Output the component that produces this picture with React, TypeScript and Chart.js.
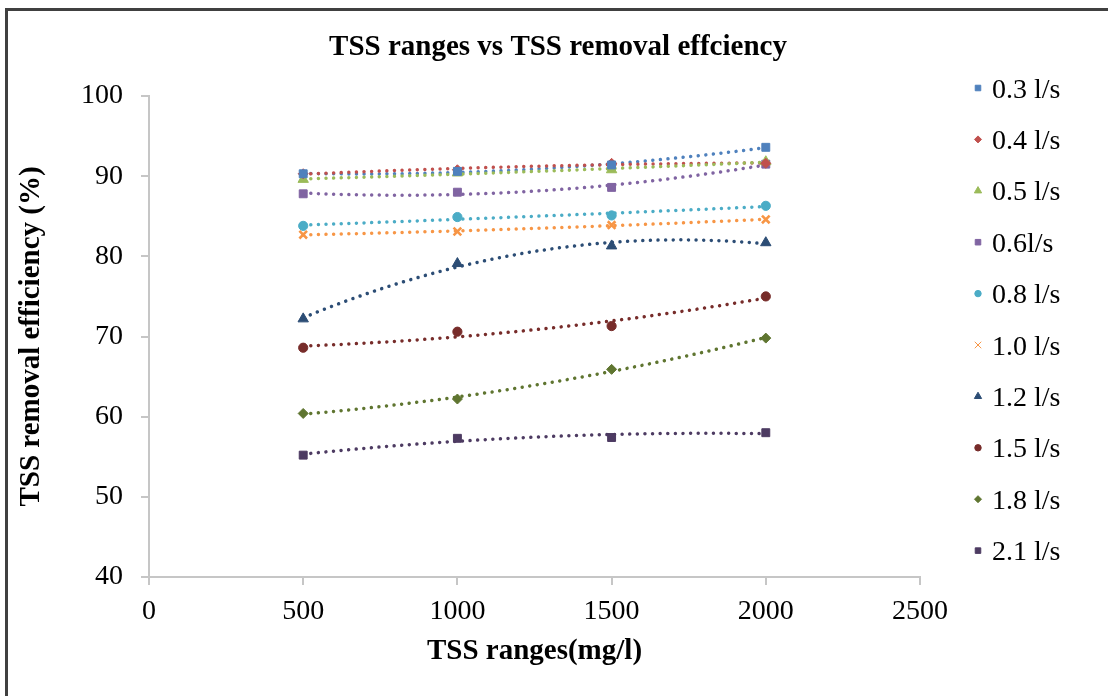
import React, { useEffect, useRef } from 'react';
import { Chart, registerables } from 'chart.js';
import { drawPoint } from 'chart.js/helpers';

Chart.register(...registerables);

// ---------- data ----------
const tssRanges = [500, 1000, 1500, 2000];
const xTickValues = [0, 500, 1000, 1500, 2000, 2500];
const yTickValues = [40, 50, 60, 70, 80, 90, 100];

const seriesLabels = ['0.3 l/s', '0.4 l/s', '0.5 l/s', '0.6l/s', '0.8 l/s', '1.0 l/s', '1.2 l/s', '1.5 l/s', '1.8 l/s', '2.1 l/s'];

const eff03 = [90.3, 90.6, 91.4, 93.6];
const eff04 = [90.3, 90.8, 91.6, 91.6];
const eff05 = [89.6, 90.4, 90.8, 91.8];
const eff06 = [87.8, 88.0, 88.6, 91.5];
const eff08 = [83.8, 84.9, 85.1, 86.3];
const eff10 = [82.7, 83.1, 83.9, 84.6];
const eff12 = [72.2, 79.1, 81.3, 81.7];
const eff15 = [68.6, 70.6, 71.3, 75.0];
const eff18 = [60.4, 62.2, 65.9, 69.8];
const eff21 = [55.2, 57.3, 57.4, 58.0];

const seriesValues = [eff03, eff04, eff05, eff06, eff08, eff10, eff12, eff15, eff18, eff21];

const seriesColors = ['#4F81BD', '#C0504D', '#9BBB59', '#8064A2', '#4BACC6', '#F79646', '#2C4D75', '#772C2A', '#5F7530', '#4D3B62'];
const seriesMarkers = ['rect', 'rectRot', 'triangle', 'rect', 'circle', 'crossRot', 'triangle', 'circle', 'rectRot', 'rect'];

const titleText = 'TSS ranges vs TSS removal effciency';
const xTitle = 'TSS ranges(mg/l)';
const yTitle = 'TSS removal efficiency (%)';

const FONT = "'Liberation Serif', 'Times New Roman', serif";
const AXIS_COLOR = '#c6c6c6';

function markerRadius(style: string) {
  switch (style) {
    case 'rect': return 5.6;
    case 'rectRot': return 5;
    case 'triangle': return 6;
    case 'circle': return 4.6;
    case 'crossRot': return 5.4;
    default: return 5;
  }
}

// least-squares quadratic (polynomial order 2) trendline
function quadFit(xs: number[], ys: number[]) {
  const s = [0, 0, 0, 0, 0];
  const t = [0, 0, 0];
  for (let i = 0; i < xs.length; i++) {
    const u = xs[i] / 1000;
    for (let k = 0; k < 5; k++) s[k] += Math.pow(u, k);
    for (let k = 0; k < 3; k++) t[k] += ys[i] * Math.pow(u, k);
  }
  const m = [
    [s[0], s[1], s[2], t[0]],
    [s[1], s[2], s[3], t[1]],
    [s[2], s[3], s[4], t[2]],
  ];
  for (let c = 0; c < 3; c++) {
    let p = c;
    for (let r = c + 1; r < 3; r++) if (Math.abs(m[r][c]) > Math.abs(m[p][c])) p = r;
    [m[c], m[p]] = [m[p], m[c]];
    for (let r = 0; r < 3; r++) {
      if (r === c) continue;
      const f = m[r][c] / m[c][c];
      for (let k = c; k < 4; k++) m[r][k] -= f * m[c][k];
    }
  }
  const a = m[0][3] / m[0][0];
  const b = m[1][3] / m[1][1];
  const cc = m[2][3] / m[2][2];
  return (x: number) => {
    const u = x / 1000;
    return a + b * u + cc * u * u;
  };
}

const framePlugin = {
  id: 'frame',
  afterDraw(chart: any) {
    const { ctx } = chart;
    ctx.save();
    ctx.fillStyle = '#404040';
    ctx.fillRect(5, 8, chart.width, 3);
    ctx.fillRect(5, 8, 3, chart.height);
    ctx.restore();
  },
};

const titlePlugin = {
  id: 'customTitle',
  afterDraw(chart: any) {
    const { ctx } = chart;
    ctx.save();
    ctx.font = `bold 29px ${FONT}`;
    ctx.fillStyle = '#000';
    ctx.textAlign = 'center';
    ctx.textBaseline = 'alphabetic';
    ctx.fillText(titleText, 558, 54.5);
    ctx.restore();
  },
};

const trendPlugin = {
  id: 'trendlines',
  beforeDatasetsDraw(chart: any) {
    const { ctx, scales } = chart;
    const xs = scales.x;
    const ys = scales.y;
    chart.data.datasets.forEach((ds: any) => {
      const px = ds.data.map((d: any) => d.x);
      const py = ds.data.map((d: any) => d.y);
      const f = quadFit(px, py);
      const x0 = Math.min(...px);
      const x1 = Math.max(...px);
      ctx.save();
      ctx.beginPath();
      const steps = 150;
      for (let i = 0; i <= steps; i++) {
        const v = x0 + ((x1 - x0) * i) / steps;
        const X = xs.getPixelForValue(v);
        const Y = ys.getPixelForValue(f(v));
        if (i === 0) ctx.moveTo(X, Y);
        else ctx.lineTo(X, Y);
      }
      ctx.strokeStyle = ds.borderColor;
      ctx.lineWidth = 3.5;
      ctx.lineCap = 'round';
      ctx.setLineDash([0.01, 7.6]);
      ctx.stroke();
      ctx.restore();
    });
  },
};

const legendPlugin = {
  id: 'customLegend',
  afterDraw(chart: any) {
    const { ctx, chartArea } = chart;
    const mx = chartArea.right + 58;
    const tx = chartArea.right + 72;
    const y0 = 88;
    const gap = 51.4;
    chart.data.datasets.forEach((ds: any, i: number) => {
      const cy = y0 + i * gap;
      ctx.save();
      ctx.fillStyle = ds.backgroundColor;
      ctx.strokeStyle = ds.borderColor;
      const style = ds.pointStyle;
      drawPoint(ctx, {
        pointStyle: style,
        radius: style === 'crossRot' ? 4.6 : markerRadius(style) * 0.7,
        rotation: 0,
        borderWidth: style === 'crossRot' ? 2.6 : 1,
      }, mx, cy);
      ctx.restore();
      ctx.save();
      ctx.font = `28px ${FONT}`;
      ctx.fillStyle = '#000';
      ctx.textAlign = 'left';
      ctx.textBaseline = 'alphabetic';
      ctx.fillText(ds.label, tx, cy + 9.5);
      ctx.restore();
    });
  },
};

export default function App() {
  const canvasRef = useRef<HTMLCanvasElement | null>(null);

  useEffect(() => {
    if (!canvasRef.current) return;
    const datasets = seriesValues.map((vals, i) => ({
      label: seriesLabels[i],
      data: tssRanges.map((x, j) => ({ x, y: vals[j] })),
      showLine: false,
      backgroundColor: seriesColors[i],
      borderColor: seriesColors[i],
      pointStyle: seriesMarkers[i],
      pointRadius: markerRadius(seriesMarkers[i]),
      pointBorderWidth: seriesMarkers[i] === 'crossRot' ? 2.6 : 1,
      pointBackgroundColor: seriesColors[i],
      pointBorderColor: seriesColors[i],
    }));

    const chart = new Chart(canvasRef.current, {
      type: 'scatter',
      data: { datasets },
      options: {
        animation: false,
        responsive: true,
        maintainAspectRatio: false,
        layout: { padding: { left: 8, top: 96, right: 188, bottom: 0 } },
        plugins: {
          legend: { display: false },
          title: { display: false },
          tooltip: { enabled: false },
        },
        scales: {
          x: {
            type: 'linear',
            min: xTickValues[0],
            max: xTickValues[xTickValues.length - 1],
            afterBuildTicks: (scale: any) => {
              scale.ticks = xTickValues.map((v) => ({ value: v }));
            },
            ticks: {
              font: { family: FONT, size: 28 },
              color: '#000',
              padding: 10,
              maxRotation: 0,
              callback: (v: any) => String(v),
            },
            grid: { drawOnChartArea: false, drawTicks: true, tickLength: 8, color: AXIS_COLOR, lineWidth: 2 },
            border: { display: true, color: AXIS_COLOR, width: 2 },
            title: {
              display: true,
              text: xTitle,
              color: '#000',
              font: { family: FONT, size: 29, weight: 'bold' },
              padding: { top: 0, bottom: 26.6 },
            },
            afterFit: (scale: any) => { scale.height = 119; },
          },
          y: {
            type: 'linear',
            min: yTickValues[0],
            max: yTickValues[yTickValues.length - 1],
            afterBuildTicks: (scale: any) => {
              scale.ticks = yTickValues.map((v) => ({ value: v }));
            },
            ticks: {
              font: { family: FONT, size: 28 },
              color: '#000',
              padding: 18,
              callback: (v: any) => String(v),
            },
            grid: { drawOnChartArea: false, drawTicks: true, tickLength: 8, color: AXIS_COLOR, lineWidth: 2 },
            border: { display: true, color: AXIS_COLOR, width: 2 },
            title: {
              display: true,
              text: yTitle,
              color: '#000',
              font: { family: FONT, size: 29, weight: 'bold' },
              padding: { top: 6, bottom: 0 },
            },
            afterFit: (scale: any) => { scale.width = 141; },
          },
        },
      } as any,
      plugins: [trendPlugin, legendPlugin, titlePlugin, framePlugin],
    });
    return () => chart.destroy();
  }, []);

  return (
    <div style={{ position: 'absolute', left: 0, top: 0, width: 1108, height: 696, background: '#fff' }}>
      <canvas ref={canvasRef} />
    </div>
  );
}
